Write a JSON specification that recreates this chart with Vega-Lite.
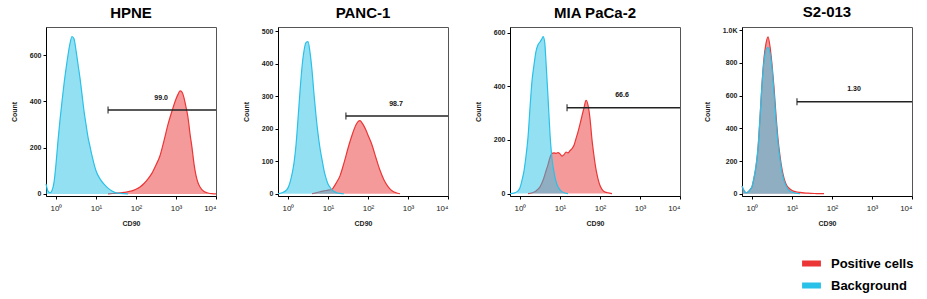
{
  "$schema": "https://vega.github.io/schema/vega-lite/v6.json",
  "padding": {"left": 9, "top": 4, "right": 5, "bottom": 5},
  "background": "white",
  "spacing": 62,
  "bounds": "flush",
  "config": {
    "view": {"stroke": "#555", "strokeWidth": 1},
    "axis": {"grid": false, "labelFont": "Liberation Sans", "titleFont": "Liberation Sans", "labelFontSize": 7, "labelFontWeight": "bold", "labelColor": "#222", "titleFontSize": 7, "titleFontWeight": "bold", "titleColor": "#222", "domainColor": "#000", "tickColor": "#000", "tickSize": 3},
    "title": {"font": "Liberation Sans", "fontSize": 15, "fontWeight": "bold", "anchor": "middle", "offset": 6, "color": "#000"},
    "text": {"font": "Liberation Sans"}
  },
  "datasets": {
    "hist": [
      {"panel":"HPNE","series":"Background","cd90":0.562,"count":43},
      {"panel":"HPNE","series":"Background","cd90":0.631,"count":12},
      {"panel":"HPNE","series":"Background","cd90":0.708,"count":5},
      {"panel":"HPNE","series":"Background","cd90":0.794,"count":15},
      {"panel":"HPNE","series":"Background","cd90":0.891,"count":50},
      {"panel":"HPNE","series":"Background","cd90":1,"count":130},
      {"panel":"HPNE","series":"Background","cd90":1.122,"count":230},
      {"panel":"HPNE","series":"Background","cd90":1.259,"count":320},
      {"panel":"HPNE","series":"Background","cd90":1.413,"count":400},
      {"panel":"HPNE","series":"Background","cd90":1.585,"count":475},
      {"panel":"HPNE","series":"Background","cd90":1.778,"count":540},
      {"panel":"HPNE","series":"Background","cd90":1.995,"count":600},
      {"panel":"HPNE","series":"Background","cd90":2.239,"count":650},
      {"panel":"HPNE","series":"Background","cd90":2.512,"count":680},
      {"panel":"HPNE","series":"Background","cd90":2.818,"count":670},
      {"panel":"HPNE","series":"Background","cd90":3.162,"count":620},
      {"panel":"HPNE","series":"Background","cd90":3.548,"count":560},
      {"panel":"HPNE","series":"Background","cd90":3.981,"count":500},
      {"panel":"HPNE","series":"Background","cd90":4.467,"count":430},
      {"panel":"HPNE","series":"Background","cd90":5.012,"count":358},
      {"panel":"HPNE","series":"Background","cd90":5.623,"count":300},
      {"panel":"HPNE","series":"Background","cd90":6.31,"count":245},
      {"panel":"HPNE","series":"Background","cd90":7.079,"count":205},
      {"panel":"HPNE","series":"Background","cd90":7.943,"count":165},
      {"panel":"HPNE","series":"Background","cd90":8.913,"count":130},
      {"panel":"HPNE","series":"Background","cd90":10,"count":100},
      {"panel":"HPNE","series":"Background","cd90":12.59,"count":65},
      {"panel":"HPNE","series":"Background","cd90":15.85,"count":42},
      {"panel":"HPNE","series":"Background","cd90":19.95,"count":25},
      {"panel":"HPNE","series":"Background","cd90":25.12,"count":13},
      {"panel":"HPNE","series":"Background","cd90":31.62,"count":5},
      {"panel":"HPNE","series":"Background","cd90":39.81,"count":2},
      {"panel":"HPNE","series":"Background","cd90":63.1,"count":0},

      {"panel":"HPNE","series":"Positive cells","cd90":19.95,"count":0},
      {"panel":"HPNE","series":"Positive cells","cd90":31.62,"count":3},
      {"panel":"HPNE","series":"Positive cells","cd90":50.12,"count":7},
      {"panel":"HPNE","series":"Positive cells","cd90":79.43,"count":13},
      {"panel":"HPNE","series":"Positive cells","cd90":100,"count":20},
      {"panel":"HPNE","series":"Positive cells","cd90":125.9,"count":30},
      {"panel":"HPNE","series":"Positive cells","cd90":158.5,"count":45},
      {"panel":"HPNE","series":"Positive cells","cd90":199.5,"count":65},
      {"panel":"HPNE","series":"Positive cells","cd90":251.2,"count":90},
      {"panel":"HPNE","series":"Positive cells","cd90":316.2,"count":125},
      {"panel":"HPNE","series":"Positive cells","cd90":398.1,"count":165},
      {"panel":"HPNE","series":"Positive cells","cd90":501.2,"count":230},
      {"panel":"HPNE","series":"Positive cells","cd90":631,"count":300},
      {"panel":"HPNE","series":"Positive cells","cd90":794.3,"count":358},
      {"panel":"HPNE","series":"Positive cells","cd90":1000,"count":410},
      {"panel":"HPNE","series":"Positive cells","cd90":1122,"count":430},
      {"panel":"HPNE","series":"Positive cells","cd90":1259,"count":445},
      {"panel":"HPNE","series":"Positive cells","cd90":1413,"count":440},
      {"panel":"HPNE","series":"Positive cells","cd90":1585,"count":415},
      {"panel":"HPNE","series":"Positive cells","cd90":1778,"count":375},
      {"panel":"HPNE","series":"Positive cells","cd90":1995,"count":330},
      {"panel":"HPNE","series":"Positive cells","cd90":2239,"count":260},
      {"panel":"HPNE","series":"Positive cells","cd90":2512,"count":200},
      {"panel":"HPNE","series":"Positive cells","cd90":2818,"count":130},
      {"panel":"HPNE","series":"Positive cells","cd90":3162,"count":80},
      {"panel":"HPNE","series":"Positive cells","cd90":3548,"count":48},
      {"panel":"HPNE","series":"Positive cells","cd90":3981,"count":30},
      {"panel":"HPNE","series":"Positive cells","cd90":5012,"count":10},
      {"panel":"HPNE","series":"Positive cells","cd90":6310,"count":4},
      {"panel":"HPNE","series":"Positive cells","cd90":7943,"count":1},
      {"panel":"HPNE","series":"Positive cells","cd90":10000,"count":0},

      {"panel":"PANC-1","series":"Background","cd90":0.562,"count":0},
      {"panel":"PANC-1","series":"Background","cd90":0.708,"count":3},
      {"panel":"PANC-1","series":"Background","cd90":0.891,"count":10},
      {"panel":"PANC-1","series":"Background","cd90":1,"count":18},
      {"panel":"PANC-1","series":"Background","cd90":1.122,"count":35},
      {"panel":"PANC-1","series":"Background","cd90":1.259,"count":60},
      {"panel":"PANC-1","series":"Background","cd90":1.413,"count":95},
      {"panel":"PANC-1","series":"Background","cd90":1.585,"count":150},
      {"panel":"PANC-1","series":"Background","cd90":1.778,"count":230},
      {"panel":"PANC-1","series":"Background","cd90":1.995,"count":315},
      {"panel":"PANC-1","series":"Background","cd90":2.239,"count":390},
      {"panel":"PANC-1","series":"Background","cd90":2.512,"count":440},
      {"panel":"PANC-1","series":"Background","cd90":2.818,"count":465},
      {"panel":"PANC-1","series":"Background","cd90":3.162,"count":468},
      {"panel":"PANC-1","series":"Background","cd90":3.548,"count":435},
      {"panel":"PANC-1","series":"Background","cd90":3.981,"count":380},
      {"panel":"PANC-1","series":"Background","cd90":4.467,"count":306},
      {"panel":"PANC-1","series":"Background","cd90":5.012,"count":240},
      {"panel":"PANC-1","series":"Background","cd90":5.623,"count":185},
      {"panel":"PANC-1","series":"Background","cd90":6.31,"count":140},
      {"panel":"PANC-1","series":"Background","cd90":7.079,"count":105},
      {"panel":"PANC-1","series":"Background","cd90":7.943,"count":72},
      {"panel":"PANC-1","series":"Background","cd90":8.913,"count":48},
      {"panel":"PANC-1","series":"Background","cd90":10,"count":30},
      {"panel":"PANC-1","series":"Background","cd90":11.22,"count":20},
      {"panel":"PANC-1","series":"Background","cd90":12.59,"count":12},
      {"panel":"PANC-1","series":"Background","cd90":15.85,"count":4},
      {"panel":"PANC-1","series":"Background","cd90":19.95,"count":1},
      {"panel":"PANC-1","series":"Background","cd90":25.12,"count":0},

      {"panel":"PANC-1","series":"Positive cells","cd90":3.981,"count":0},
      {"panel":"PANC-1","series":"Positive cells","cd90":5.012,"count":3},
      {"panel":"PANC-1","series":"Positive cells","cd90":6.31,"count":6},
      {"panel":"PANC-1","series":"Positive cells","cd90":7.943,"count":9},
      {"panel":"PANC-1","series":"Positive cells","cd90":10,"count":11},
      {"panel":"PANC-1","series":"Positive cells","cd90":12.59,"count":14},
      {"panel":"PANC-1","series":"Positive cells","cd90":14.13,"count":22},
      {"panel":"PANC-1","series":"Positive cells","cd90":15.85,"count":32},
      {"panel":"PANC-1","series":"Positive cells","cd90":19.95,"count":55},
      {"panel":"PANC-1","series":"Positive cells","cd90":25.12,"count":95},
      {"panel":"PANC-1","series":"Positive cells","cd90":31.62,"count":140},
      {"panel":"PANC-1","series":"Positive cells","cd90":39.81,"count":180},
      {"panel":"PANC-1","series":"Positive cells","cd90":50.12,"count":212},
      {"panel":"PANC-1","series":"Positive cells","cd90":56.23,"count":222},
      {"panel":"PANC-1","series":"Positive cells","cd90":63.1,"count":225},
      {"panel":"PANC-1","series":"Positive cells","cd90":70.79,"count":218},
      {"panel":"PANC-1","series":"Positive cells","cd90":79.43,"count":208},
      {"panel":"PANC-1","series":"Positive cells","cd90":89.13,"count":195},
      {"panel":"PANC-1","series":"Positive cells","cd90":100,"count":180},
      {"panel":"PANC-1","series":"Positive cells","cd90":125.9,"count":150},
      {"panel":"PANC-1","series":"Positive cells","cd90":158.5,"count":110},
      {"panel":"PANC-1","series":"Positive cells","cd90":199.5,"count":72},
      {"panel":"PANC-1","series":"Positive cells","cd90":251.2,"count":42},
      {"panel":"PANC-1","series":"Positive cells","cd90":316.2,"count":22},
      {"panel":"PANC-1","series":"Positive cells","cd90":398.1,"count":9},
      {"panel":"PANC-1","series":"Positive cells","cd90":501.2,"count":3},
      {"panel":"PANC-1","series":"Positive cells","cd90":631,"count":0},

      {"panel":"MIA PaCa-2","series":"Background","cd90":0.562,"count":0},
      {"panel":"MIA PaCa-2","series":"Background","cd90":0.708,"count":2},
      {"panel":"MIA PaCa-2","series":"Background","cd90":0.891,"count":10},
      {"panel":"MIA PaCa-2","series":"Background","cd90":1,"count":22},
      {"panel":"MIA PaCa-2","series":"Background","cd90":1.122,"count":50},
      {"panel":"MIA PaCa-2","series":"Background","cd90":1.259,"count":85},
      {"panel":"MIA PaCa-2","series":"Background","cd90":1.413,"count":140},
      {"panel":"MIA PaCa-2","series":"Background","cd90":1.585,"count":210},
      {"panel":"MIA PaCa-2","series":"Background","cd90":1.778,"count":320},
      {"panel":"MIA PaCa-2","series":"Background","cd90":1.995,"count":420},
      {"panel":"MIA PaCa-2","series":"Background","cd90":2.239,"count":480},
      {"panel":"MIA PaCa-2","series":"Background","cd90":2.512,"count":530},
      {"panel":"MIA PaCa-2","series":"Background","cd90":2.818,"count":555},
      {"panel":"MIA PaCa-2","series":"Background","cd90":3.162,"count":565},
      {"panel":"MIA PaCa-2","series":"Background","cd90":3.548,"count":578},
      {"panel":"MIA PaCa-2","series":"Background","cd90":3.802,"count":585},
      {"panel":"MIA PaCa-2","series":"Background","cd90":4.169,"count":560},
      {"panel":"MIA PaCa-2","series":"Background","cd90":4.467,"count":490},
      {"panel":"MIA PaCa-2","series":"Background","cd90":5.012,"count":360},
      {"panel":"MIA PaCa-2","series":"Background","cd90":5.623,"count":221},
      {"panel":"MIA PaCa-2","series":"Background","cd90":6.31,"count":130},
      {"panel":"MIA PaCa-2","series":"Background","cd90":7.079,"count":80},
      {"panel":"MIA PaCa-2","series":"Background","cd90":7.943,"count":45},
      {"panel":"MIA PaCa-2","series":"Background","cd90":8.913,"count":25},
      {"panel":"MIA PaCa-2","series":"Background","cd90":10,"count":14},
      {"panel":"MIA PaCa-2","series":"Background","cd90":12.59,"count":3},
      {"panel":"MIA PaCa-2","series":"Background","cd90":15.85,"count":0},

      {"panel":"MIA PaCa-2","series":"Positive cells","cd90":1.585,"count":0},
      {"panel":"MIA PaCa-2","series":"Positive cells","cd90":1.995,"count":3},
      {"panel":"MIA PaCa-2","series":"Positive cells","cd90":2.512,"count":10},
      {"panel":"MIA PaCa-2","series":"Positive cells","cd90":3.162,"count":25},
      {"panel":"MIA PaCa-2","series":"Positive cells","cd90":3.548,"count":40},
      {"panel":"MIA PaCa-2","series":"Positive cells","cd90":3.981,"count":60},
      {"panel":"MIA PaCa-2","series":"Positive cells","cd90":4.467,"count":85},
      {"panel":"MIA PaCa-2","series":"Positive cells","cd90":5.012,"count":108},
      {"panel":"MIA PaCa-2","series":"Positive cells","cd90":5.623,"count":135},
      {"panel":"MIA PaCa-2","series":"Positive cells","cd90":6.31,"count":150},
      {"panel":"MIA PaCa-2","series":"Positive cells","cd90":7.079,"count":152},
      {"panel":"MIA PaCa-2","series":"Positive cells","cd90":7.943,"count":150},
      {"panel":"MIA PaCa-2","series":"Positive cells","cd90":8.913,"count":153},
      {"panel":"MIA PaCa-2","series":"Positive cells","cd90":10,"count":148},
      {"panel":"MIA PaCa-2","series":"Positive cells","cd90":11.22,"count":140},
      {"panel":"MIA PaCa-2","series":"Positive cells","cd90":12.59,"count":145},
      {"panel":"MIA PaCa-2","series":"Positive cells","cd90":14.13,"count":155},
      {"panel":"MIA PaCa-2","series":"Positive cells","cd90":15.85,"count":152},
      {"panel":"MIA PaCa-2","series":"Positive cells","cd90":17.78,"count":160},
      {"panel":"MIA PaCa-2","series":"Positive cells","cd90":19.95,"count":168},
      {"panel":"MIA PaCa-2","series":"Positive cells","cd90":22.39,"count":180},
      {"panel":"MIA PaCa-2","series":"Positive cells","cd90":25.12,"count":205},
      {"panel":"MIA PaCa-2","series":"Positive cells","cd90":28.18,"count":230},
      {"panel":"MIA PaCa-2","series":"Positive cells","cd90":31.62,"count":259},
      {"panel":"MIA PaCa-2","series":"Positive cells","cd90":35.48,"count":290},
      {"panel":"MIA PaCa-2","series":"Positive cells","cd90":39.81,"count":320},
      {"panel":"MIA PaCa-2","series":"Positive cells","cd90":44.67,"count":348},
      {"panel":"MIA PaCa-2","series":"Positive cells","cd90":50.12,"count":330},
      {"panel":"MIA PaCa-2","series":"Positive cells","cd90":56.23,"count":280},
      {"panel":"MIA PaCa-2","series":"Positive cells","cd90":63.1,"count":200},
      {"panel":"MIA PaCa-2","series":"Positive cells","cd90":70.79,"count":140},
      {"panel":"MIA PaCa-2","series":"Positive cells","cd90":79.43,"count":90},
      {"panel":"MIA PaCa-2","series":"Positive cells","cd90":89.13,"count":55},
      {"panel":"MIA PaCa-2","series":"Positive cells","cd90":100,"count":30},
      {"panel":"MIA PaCa-2","series":"Positive cells","cd90":112.2,"count":16},
      {"panel":"MIA PaCa-2","series":"Positive cells","cd90":125.9,"count":8},
      {"panel":"MIA PaCa-2","series":"Positive cells","cd90":158.5,"count":3},
      {"panel":"MIA PaCa-2","series":"Positive cells","cd90":199.5,"count":0},

      {"panel":"S2-013","series":"Background","cd90":0.562,"count":47},
      {"panel":"S2-013","series":"Background","cd90":0.631,"count":20},
      {"panel":"S2-013","series":"Background","cd90":0.708,"count":6},
      {"panel":"S2-013","series":"Background","cd90":0.794,"count":10},
      {"panel":"S2-013","series":"Background","cd90":0.891,"count":25},
      {"panel":"S2-013","series":"Background","cd90":1,"count":45},
      {"panel":"S2-013","series":"Background","cd90":1.122,"count":100},
      {"panel":"S2-013","series":"Background","cd90":1.259,"count":170},
      {"panel":"S2-013","series":"Background","cd90":1.413,"count":282},
      {"panel":"S2-013","series":"Background","cd90":1.585,"count":470},
      {"panel":"S2-013","series":"Background","cd90":1.778,"count":670},
      {"panel":"S2-013","series":"Background","cd90":1.995,"count":810},
      {"panel":"S2-013","series":"Background","cd90":2.239,"count":880},
      {"panel":"S2-013","series":"Background","cd90":2.512,"count":895},
      {"panel":"S2-013","series":"Background","cd90":2.818,"count":860},
      {"panel":"S2-013","series":"Background","cd90":3.162,"count":771},
      {"panel":"S2-013","series":"Background","cd90":3.548,"count":620},
      {"panel":"S2-013","series":"Background","cd90":3.981,"count":450},
      {"panel":"S2-013","series":"Background","cd90":4.467,"count":310},
      {"panel":"S2-013","series":"Background","cd90":5.012,"count":210},
      {"panel":"S2-013","series":"Background","cd90":5.623,"count":130},
      {"panel":"S2-013","series":"Background","cd90":6.31,"count":80},
      {"panel":"S2-013","series":"Background","cd90":7.079,"count":48},
      {"panel":"S2-013","series":"Background","cd90":7.943,"count":27},
      {"panel":"S2-013","series":"Background","cd90":10,"count":10},
      {"panel":"S2-013","series":"Background","cd90":12.59,"count":3},
      {"panel":"S2-013","series":"Background","cd90":15.85,"count":0},

      {"panel":"S2-013","series":"Positive cells","cd90":0.562,"count":45},
      {"panel":"S2-013","series":"Positive cells","cd90":0.631,"count":18},
      {"panel":"S2-013","series":"Positive cells","cd90":0.708,"count":6},
      {"panel":"S2-013","series":"Positive cells","cd90":0.794,"count":10},
      {"panel":"S2-013","series":"Positive cells","cd90":0.891,"count":24},
      {"panel":"S2-013","series":"Positive cells","cd90":1,"count":42},
      {"panel":"S2-013","series":"Positive cells","cd90":1.122,"count":95},
      {"panel":"S2-013","series":"Positive cells","cd90":1.259,"count":165},
      {"panel":"S2-013","series":"Positive cells","cd90":1.413,"count":275},
      {"panel":"S2-013","series":"Positive cells","cd90":1.585,"count":460},
      {"panel":"S2-013","series":"Positive cells","cd90":1.778,"count":670},
      {"panel":"S2-013","series":"Positive cells","cd90":1.995,"count":830},
      {"panel":"S2-013","series":"Positive cells","cd90":2.239,"count":920},
      {"panel":"S2-013","series":"Positive cells","cd90":2.512,"count":960},
      {"panel":"S2-013","series":"Positive cells","cd90":2.818,"count":900},
      {"panel":"S2-013","series":"Positive cells","cd90":3.162,"count":790},
      {"panel":"S2-013","series":"Positive cells","cd90":3.548,"count":650},
      {"panel":"S2-013","series":"Positive cells","cd90":3.981,"count":480},
      {"panel":"S2-013","series":"Positive cells","cd90":4.467,"count":335},
      {"panel":"S2-013","series":"Positive cells","cd90":5.012,"count":230},
      {"panel":"S2-013","series":"Positive cells","cd90":5.623,"count":150},
      {"panel":"S2-013","series":"Positive cells","cd90":6.31,"count":95},
      {"panel":"S2-013","series":"Positive cells","cd90":7.079,"count":60},
      {"panel":"S2-013","series":"Positive cells","cd90":7.943,"count":40},
      {"panel":"S2-013","series":"Positive cells","cd90":10,"count":20},
      {"panel":"S2-013","series":"Positive cells","cd90":12.59,"count":12},
      {"panel":"S2-013","series":"Positive cells","cd90":15.85,"count":8},
      {"panel":"S2-013","series":"Positive cells","cd90":19.95,"count":5},
      {"panel":"S2-013","series":"Positive cells","cd90":25.12,"count":3},
      {"panel":"S2-013","series":"Positive cells","cd90":39.81,"count":1},
      {"panel":"S2-013","series":"Positive cells","cd90":63.1,"count":0}
    ],
    "gates": [
      {"panel":"HPNE","cd90":20,"cd90_end":10000,"count":363,"label":"99.0","label_cd90":426,"label_count":415},
      {"panel":"PANC-1","cd90":28,"cd90_end":10000,"count":239,"label":"98.7","label_cd90":500,"label_count":276},
      {"panel":"MIA PaCa-2","cd90":15,"cd90_end":10000,"count":320,"label":"66.6","label_cd90":355,"label_count":368},
      {"panel":"S2-013","cd90":13.3,"cd90_end":10000,"count":563,"label":"1.30","label_cd90":355,"label_count":641}
    ]
  },
  "hconcat": [
    {
      "title": "HPNE",
      "width": 170, "height": 169,
      "encoding": {
        "x": {"field": "cd90", "type": "quantitative", "title": "CD90", "scale": {"type": "log", "domain": [0.562, 10000], "nice": false},
              "axis": {"values": [1, 10, 100, 1000, 10000], "labelFontSize": 8, "labelFontWeight": "normal", "labelFlush": true, "labelPadding": 5, "labelExpr": "'10' + ['⁰','¹','²','³','⁴'][round(log(datum.value)/LN10)]", "titlePadding": 7}},
        "y": {"field": "count", "type": "quantitative", "title": "Count", "scale": {"domain": [-9, 721], "nice": false, "zero": false},
              "axis": {"values": [0, 200, 400, 600], "titlePadding": 12}}
      },
      "layer": [
        {"data": {"name": "hist"}, "transform": [{"filter": "datum.panel === 'HPNE' && datum.series === 'Positive cells'"}],
         "mark": {"type": "area", "fillOpacity": 0.5, "interpolate": "monotone", "line": {"strokeWidth": 1.2}},
         "encoding": {"color": {"field": "series", "type": "nominal", "scale": {"domain": ["Positive cells", "Background"], "range": ["#ec3636", "#29c1e8"]},
           "legend": {"orient": "none", "legendX": 756, "legendY": 227, "title": null, "symbolType": "M-1,-0.25H1V0.25H-1Z", "symbolSize": 300, "symbolOpacity": 1, "labelFont": "Liberation Sans", "labelFontSize": 13, "labelFontWeight": "bold", "labelColor": "#000", "labelOffset": 10, "rowPadding": 5}}}},
        {"data": {"name": "hist"}, "transform": [{"filter": "datum.panel === 'HPNE' && datum.series === 'Background'"}],
         "mark": {"type": "area", "fillOpacity": 0.5, "interpolate": "monotone", "line": {"strokeWidth": 1.2}},
         "encoding": {"color": {"field": "series", "type": "nominal"}}},
        {"data": {"name": "gates"}, "transform": [{"filter": "datum.panel === 'HPNE'"}],
         "mark": {"type": "rule", "color": "#222", "strokeWidth": 1.5}, "encoding": {"x2": {"field": "cd90_end"}}},
        {"data": {"name": "gates"}, "transform": [{"filter": "datum.panel === 'HPNE'"}],
         "mark": {"type": "tick", "orient": "vertical", "size": 7, "thickness": 1.5, "color": "#222"}, "encoding": {}},
        {"data": {"name": "gates"}, "transform": [{"filter": "datum.panel === 'HPNE'"}],
         "mark": {"type": "text", "fontSize": 7, "fontWeight": "bold", "fill": "#111"},
         "encoding": {"x": {"field": "label_cd90", "type": "quantitative"}, "y": {"field": "label_count", "type": "quantitative"}, "text": {"field": "label"}}}
      ]
    },
    {
      "title": "PANC-1",
      "width": 170, "height": 169,
      "encoding": {
        "x": {"field": "cd90", "type": "quantitative", "title": "CD90", "scale": {"type": "log", "domain": [0.562, 10000], "nice": false},
              "axis": {"values": [1, 10, 100, 1000, 10000], "labelFontSize": 8, "labelFontWeight": "normal", "labelFlush": true, "labelPadding": 5, "labelExpr": "'10' + ['⁰','¹','²','³','⁴'][round(log(datum.value)/LN10)]", "titlePadding": 7}},
        "y": {"field": "count", "type": "quantitative", "title": "Count", "scale": {"domain": [-7, 513], "nice": false, "zero": false},
              "axis": {"values": [0, 100, 200, 300, 400, 500], "titlePadding": 12}}
      },
      "layer": [
        {"data": {"name": "hist"}, "transform": [{"filter": "datum.panel === 'PANC-1' && datum.series === 'Positive cells'"}],
         "mark": {"type": "area", "fillOpacity": 0.5, "interpolate": "monotone", "line": {"strokeWidth": 1.2}},
         "encoding": {"color": {"field": "series", "type": "nominal"}}},
        {"data": {"name": "hist"}, "transform": [{"filter": "datum.panel === 'PANC-1' && datum.series === 'Background'"}],
         "mark": {"type": "area", "fillOpacity": 0.5, "interpolate": "monotone", "line": {"strokeWidth": 1.2}},
         "encoding": {"color": {"field": "series", "type": "nominal"}}},
        {"data": {"name": "gates"}, "transform": [{"filter": "datum.panel === 'PANC-1'"}],
         "mark": {"type": "rule", "color": "#222", "strokeWidth": 1.5}, "encoding": {"x2": {"field": "cd90_end"}}},
        {"data": {"name": "gates"}, "transform": [{"filter": "datum.panel === 'PANC-1'"}],
         "mark": {"type": "tick", "orient": "vertical", "size": 7, "thickness": 1.5, "color": "#222"}, "encoding": {}},
        {"data": {"name": "gates"}, "transform": [{"filter": "datum.panel === 'PANC-1'"}],
         "mark": {"type": "text", "fontSize": 7, "fontWeight": "bold", "fill": "#111"},
         "encoding": {"x": {"field": "label_cd90", "type": "quantitative"}, "y": {"field": "label_count", "type": "quantitative"}, "text": {"field": "label"}}}
      ]
    },
    {
      "title": "MIA PaCa-2",
      "width": 170, "height": 169,
      "encoding": {
        "x": {"field": "cd90", "type": "quantitative", "title": "CD90", "scale": {"type": "log", "domain": [0.562, 10000], "nice": false},
              "axis": {"values": [1, 10, 100, 1000, 10000], "labelFontSize": 8, "labelFontWeight": "normal", "labelFlush": true, "labelPadding": 5, "labelExpr": "'10' + ['⁰','¹','²','³','⁴'][round(log(datum.value)/LN10)]", "titlePadding": 7}},
        "y": {"field": "count", "type": "quantitative", "title": "Count", "scale": {"domain": [-9, 621], "nice": false, "zero": false},
              "axis": {"values": [0, 200, 400, 600], "titlePadding": 12}}
      },
      "layer": [
        {"data": {"name": "hist"}, "transform": [{"filter": "datum.panel === 'MIA PaCa-2' && datum.series === 'Positive cells'"}],
         "mark": {"type": "area", "fillOpacity": 0.5, "interpolate": "monotone", "line": {"strokeWidth": 1.2}},
         "encoding": {"color": {"field": "series", "type": "nominal"}}},
        {"data": {"name": "hist"}, "transform": [{"filter": "datum.panel === 'MIA PaCa-2' && datum.series === 'Background'"}],
         "mark": {"type": "area", "fillOpacity": 0.5, "interpolate": "monotone", "line": {"strokeWidth": 1.2}},
         "encoding": {"color": {"field": "series", "type": "nominal"}}},
        {"data": {"name": "gates"}, "transform": [{"filter": "datum.panel === 'MIA PaCa-2'"}],
         "mark": {"type": "rule", "color": "#222", "strokeWidth": 1.5}, "encoding": {"x2": {"field": "cd90_end"}}},
        {"data": {"name": "gates"}, "transform": [{"filter": "datum.panel === 'MIA PaCa-2'"}],
         "mark": {"type": "tick", "orient": "vertical", "size": 7, "thickness": 1.5, "color": "#222"}, "encoding": {}},
        {"data": {"name": "gates"}, "transform": [{"filter": "datum.panel === 'MIA PaCa-2'"}],
         "mark": {"type": "text", "fontSize": 7, "fontWeight": "bold", "fill": "#111"},
         "encoding": {"x": {"field": "label_cd90", "type": "quantitative"}, "y": {"field": "label_count", "type": "quantitative"}, "text": {"field": "label"}}}
      ]
    },
    {
      "title": "S2-013",
      "width": 170, "height": 169,
      "encoding": {
        "x": {"field": "cd90", "type": "quantitative", "title": "CD90", "scale": {"type": "log", "domain": [0.562, 10000], "nice": false},
              "axis": {"values": [1, 10, 100, 1000, 10000], "labelFontSize": 8, "labelFontWeight": "normal", "labelFlush": true, "labelPadding": 5, "labelExpr": "'10' + ['⁰','¹','²','³','⁴'][round(log(datum.value)/LN10)]", "titlePadding": 7}},
        "y": {"field": "count", "type": "quantitative", "title": "Count", "scale": {"domain": [-14, 1020], "nice": false, "zero": false},
              "axis": {"values": [0, 200, 400, 600, 800, 1000], "labelExpr": "datum.value >= 1000 ? '1.0K' : datum.label", "titlePadding": 12}}
      },
      "layer": [
        {"data": {"name": "hist"}, "transform": [{"filter": "datum.panel === 'S2-013' && datum.series === 'Positive cells'"}],
         "mark": {"type": "area", "fillOpacity": 0.5, "interpolate": "monotone", "line": {"strokeWidth": 1.2}},
         "encoding": {"color": {"field": "series", "type": "nominal"}}},
        {"data": {"name": "hist"}, "transform": [{"filter": "datum.panel === 'S2-013' && datum.series === 'Background'"}],
         "mark": {"type": "area", "fillOpacity": 0.5, "interpolate": "monotone", "line": {"strokeWidth": 1.2}},
         "encoding": {"color": {"field": "series", "type": "nominal"}}},
        {"data": {"name": "gates"}, "transform": [{"filter": "datum.panel === 'S2-013'"}],
         "mark": {"type": "rule", "color": "#222", "strokeWidth": 1.5}, "encoding": {"x2": {"field": "cd90_end"}}},
        {"data": {"name": "gates"}, "transform": [{"filter": "datum.panel === 'S2-013'"}],
         "mark": {"type": "tick", "orient": "vertical", "size": 7, "thickness": 1.5, "color": "#222"}, "encoding": {}},
        {"data": {"name": "gates"}, "transform": [{"filter": "datum.panel === 'S2-013'"}],
         "mark": {"type": "text", "fontSize": 7, "fontWeight": "bold", "fill": "#111"},
         "encoding": {"x": {"field": "label_cd90", "type": "quantitative"}, "y": {"field": "label_count", "type": "quantitative"}, "text": {"field": "label"}}}
      ]
    }
  ]
}
